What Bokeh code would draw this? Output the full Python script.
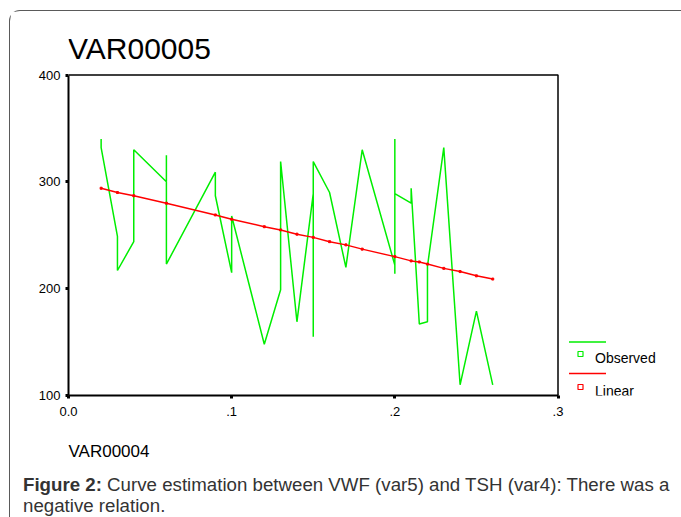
from bokeh.plotting import figure
from bokeh.layouts import column
from bokeh.models import Range1d, FixedTicker, Label, Arrow, BoxAnnotation, Div
from bokeh.embed import file_html
from bokeh.resources import INLINE

# ---- data ----
obs_x = [0.02, 0.02, 0.03, 0.03, 0.04, 0.04, 0.06, 0.06, 0.06, 0.09, 0.09,
         0.10, 0.10, 0.12, 0.13, 0.13, 0.14, 0.15, 0.15, 0.15, 0.16, 0.17,
         0.18, 0.20, 0.20, 0.20, 0.20, 0.21, 0.21, 0.215, 0.22, 0.22, 0.23,
         0.24, 0.25, 0.26]
obs_y = [340, 332, 249, 217, 244, 330, 300, 325, 223, 309, 287,
         215, 268, 148, 199, 319, 169, 289, 155, 319, 290, 220,
         330, 222, 214, 340, 289, 280, 294, 167, 169, 221, 332,
         110, 179, 110]
lin_x = [0.02, 0.03, 0.04, 0.06, 0.09, 0.10, 0.12, 0.13, 0.14, 0.15, 0.16,
         0.17, 0.18, 0.20, 0.21, 0.215, 0.22, 0.23, 0.24, 0.25, 0.26]
lin_y = [294, 290, 287, 280, 269, 265, 258, 255, 251, 248, 244,
         241, 237, 230, 226, 225, 223, 219, 216, 212, 209]
x_ticks = [0, 0.1, 0.2, 0.3]
x_tick_labels = ["0.0", ".1", ".2", ".3"]
y_ticks = [100, 200, 300, 400]

title_text = "VAR00005"
xlabel_text = "VAR00004"
legend_labels = ["Observed", "Linear"]
caption_bold = "Figure 2:"
caption_line1 = "Curve estimation between VWF (var5) and TSH (var4): There was a"
caption_line2 = "negative relation."

GREEN = "#00ee00"
RED = "#ff0000"
FONT = "Liberation Sans"

# ---- layout (page px) ----
OX, OY = 10.5, 11.5          # canvas origin on page (margin + border)
W, H = 670, 411              # figure size
FL, FB = 58, 27              # left / bottom panel sizes
DIV_H = 93
X0, X1 = 0.0, 0.3
Y0, Y1 = 100, 400
PX_X0 = OX + FL              # page x of x=0
PX_X1 = 558.0                # page x of x=0.3
PY_Y0 = OY + H - FB          # page y of y=100
PY_Y1 = 75.0                 # page y of y=400


def dx(px):
    return X0 + (px - PX_X0) / (PX_X1 - PX_X0) * (X1 - X0)


def dy(py):
    return Y0 + (PY_Y0 - py) / (PY_Y0 - PY_Y1) * (Y1 - Y0)


p = figure(width=W, height=H, output_backend="svg", toolbar_location=None,
           x_range=Range1d(X0, dx(OX + W)), y_range=Range1d(Y0, dy(OY)),
           min_border_left=FL, min_border_top=0,
           min_border_right=0, min_border_bottom=FB)
p.grid.visible = False
p.outline_line_color = None
p.background_fill_color = "white"
p.border_fill_color = "white"

for ax in (p.xaxis[0], p.yaxis[0]):
    ax.axis_line_width = 2
    ax.axis_line_color = "black"
    ax.major_tick_in = 0
    ax.major_tick_out = 3
    ax.major_tick_line_width = 3
    ax.minor_tick_line_color = None
    ax.major_label_text_font = FONT
    ax.major_label_text_font_size = "13px"
    ax.major_label_text_color = "black"

p.xaxis.ticker = FixedTicker(ticks=x_ticks)
p.xaxis.major_label_overrides = dict(zip(x_ticks, x_tick_labels))
p.xaxis.major_label_standoff = 8
p.xaxis.bounds = (X0, X1)
p.yaxis.ticker = FixedTicker(ticks=y_ticks)
p.yaxis.major_label_standoff = 5
p.yaxis.bounds = (Y0, Y1)

# top and right edges of the plot box
p.line([X0, X1, X1], [Y1, Y1, Y0], line_color="black", line_width=1.5)

p.line(obs_x, obs_y, line_color=GREEN, line_width=1.5)
p.line(lin_x, lin_y, line_color=RED, line_width=1.5)
p.scatter(lin_x, lin_y, marker="square", size=2, color=RED)

# title
p.add_layout(Label(x=dx(68), y=dy(48), text=title_text, text_font=FONT,
                   text_font_size="30px", text_color="black",
                   text_baseline="alphabetic"))

# legend
leg_y_line = [342, 373.5]
leg_y_box = [354, 387]
leg_y_text = [358, 391]
for lab, col, yl, yb, yt in zip(legend_labels, [GREEN, RED], leg_y_line, leg_y_box, leg_y_text):
    p.add_layout(Arrow(end=None, x_start=dx(569), y_start=dy(yl),
                       x_end=dx(606), y_end=dy(yl), line_color=col, line_width=1.5))
    p.add_layout(BoxAnnotation(left=dx(578), right=dx(583), top=dy(yb - 2.5),
                               bottom=dy(yb + 2.5), fill_alpha=0,
                               line_color=col, line_width=1.2, line_alpha=1))
    p.add_layout(Label(x=dx(595), y=dy(yt), text=lab, text_font=FONT,
                       text_font_size="14px", text_color="black",
                       text_baseline="middle"))

# x label + caption (below the chart)
DIV_TOP = OY + H
DIV_LEFT = OX + 4      # observed extra inner offset of the Div content
html = (
    f'<div style="position:relative;width:{W - 8}px;height:{DIV_H - 8}px;font-family:\'{FONT}\';">'
    f'<span style="position:absolute;left:{68 - DIV_LEFT}px;top:{453 - DIV_TOP - 14.4}px;'
    f'font-size:17px;line-height:1;color:#000;white-space:nowrap;">{xlabel_text}</span>'
    f'<div style="position:absolute;left:{22.5 - DIV_LEFT}px;top:{486 - DIV_TOP - 16.9}px;'
    f'font-size:18.7px;line-height:21px;color:#333;white-space:nowrap;">'
    f'<b>{caption_bold}</b> {caption_line1}<br>{caption_line2}</div>'
    f'</div>'
)
div = Div(text=html, width=W, height=DIV_H)

layout = column(p, div, margin=(10, 0, 0, 9),
                styles={"border-top": "1.5px solid #5a5a5a",
                        "border-left": "1.5px solid #5a5a5a",
                        "border-top-left-radius": "11px"})

open("out.html", "w").write(file_html(layout, INLINE))
